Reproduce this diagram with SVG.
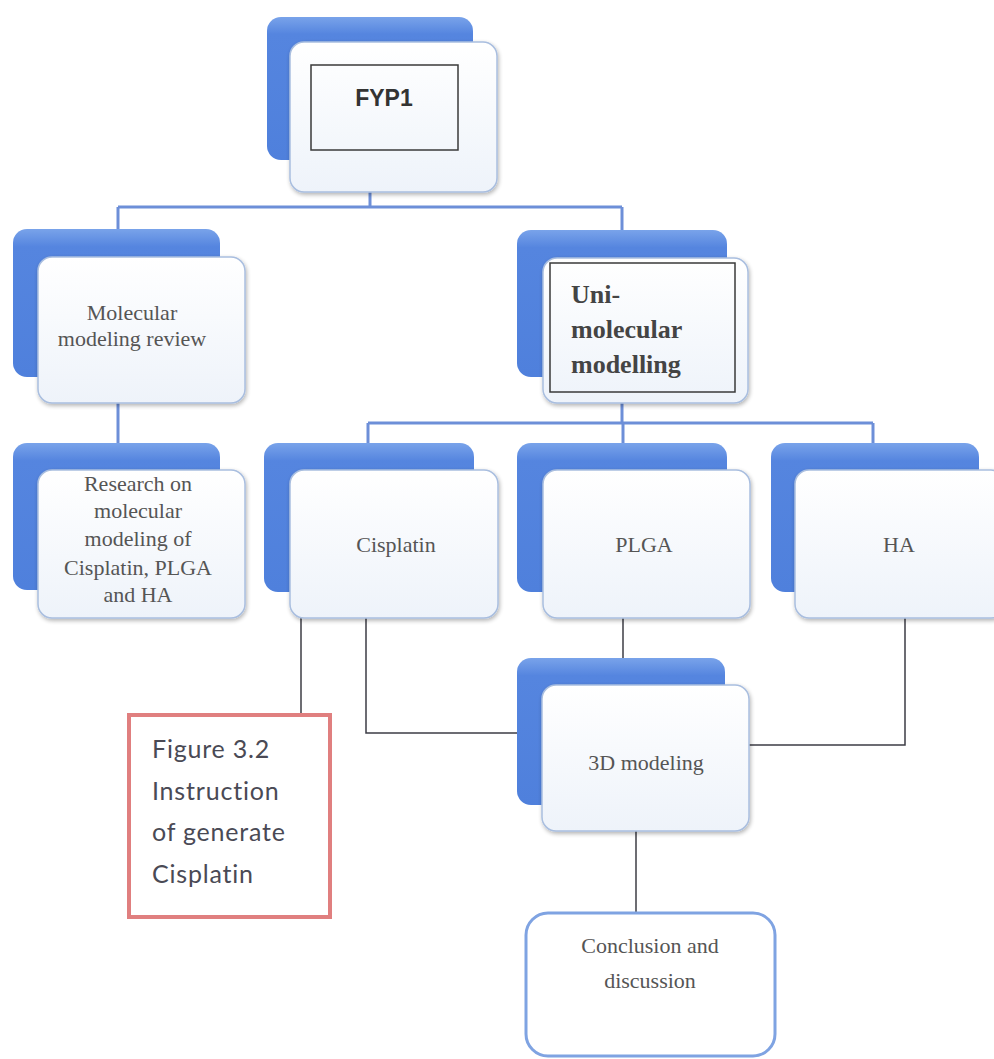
<svg xmlns="http://www.w3.org/2000/svg" width="994" height="1059" viewBox="0 0 994 1059">
<defs>
<linearGradient id="blue" x1="0" y1="0" x2="0" y2="1">
<stop offset="0" stop-color="#79a3ea"/>
<stop offset="0.12" stop-color="#5585df"/>
<stop offset="1" stop-color="#4f80dc"/>
</linearGradient>
<linearGradient id="card" x1="0" y1="0" x2="0" y2="1">
<stop offset="0" stop-color="#ffffff"/>
<stop offset="1" stop-color="#eef3fa"/>
</linearGradient>
<filter id="sh" x="-10%" y="-10%" width="130%" height="130%">
<feGaussianBlur in="SourceAlpha" stdDeviation="2"/>
<feOffset dx="1" dy="2"/>
<feComponentTransfer><feFuncA type="linear" slope="0.3"/></feComponentTransfer>
<feMerge><feMergeNode/><feMergeNode in="SourceGraphic"/></feMerge>
</filter>
</defs>
<style>
.back{fill:url(#blue);}
.front{fill:url(#card);stroke:#a9bedf;stroke-width:1.5;filter:url(#sh);}
.inner{fill:none;stroke:#3a3a3a;stroke-width:1.5;}
.t{font-family:"Liberation Serif","Times New Roman",serif;font-size:22px;fill:#555;text-anchor:middle;}
.tb{font-family:"Liberation Serif","Times New Roman",serif;font-size:26px;font-weight:bold;fill:#444;}
.fy{font-family:"Liberation Sans",Arial,sans-serif;font-size:23px;font-weight:bold;fill:#333;text-anchor:middle;}
.fig{font-family:Lato,"Open Sans",sans-serif;font-size:25px;letter-spacing:0.8px;fill:#4a4a55;}
.blueline{fill:none;stroke:#6d8fd8;stroke-width:3;}
.darkline{fill:none;stroke:#3d3d45;stroke-width:1.5;}
</style>
<rect width="994" height="1059" fill="#ffffff"/>

<g id="connectors">
<polyline class="blueline" points="370,192 370,207"/>
<polyline class="blueline" points="118,207 622,207"/>
<polyline class="blueline" points="118,207 118,229"/>
<polyline class="blueline" points="622,207 622,230"/>
<polyline class="blueline" points="118,403 118,443"/>
<polyline class="blueline" points="622,403 622,423"/>
<polyline class="blueline" points="368,423 873,423"/>
<polyline class="blueline" points="368,423 368,443"/>
<polyline class="blueline" points="623,423 623,443"/>
<polyline class="blueline" points="873,423 873,443"/>
<polyline class="darkline" points="301,618 301,714"/>
<polyline class="darkline" points="366,618 366,733 517,733"/>
<polyline class="darkline" points="623,618 623,658"/>
<polyline class="darkline" points="749,745 905,745 905,618"/>
<polyline class="darkline" points="636,831 636,913"/>
</g>

<g id="fyp1">
<rect class="back" x="267" y="17" width="206" height="143" rx="14"/>
<rect class="front" x="290" y="42" width="207" height="150" rx="14"/>
<rect class="inner" x="311" y="65" width="147" height="85"/>
<text class="fy" x="384" y="106">FYP1</text>
</g>

<g id="molecular-review">
<rect class="back" x="13" y="229" width="207" height="148" rx="14"/>
<rect class="front" x="38" y="257" width="207" height="146" rx="14"/>
<text class="t" x="132" y="320">Molecular</text>
<text class="t" x="132" y="346">modeling review</text>
</g>

<g id="uni-molecular">
<rect class="back" x="517" y="230" width="210" height="147" rx="14"/>
<rect class="front" x="543" y="258" width="205" height="145" rx="14"/>
<rect class="inner" x="550" y="263" width="185" height="129"/>
<text class="tb" x="571" y="303">Uni-</text>
<text class="tb" x="571" y="338">molecular</text>
<text class="tb" x="571" y="373">modelling</text>
</g>

<g id="research">
<rect class="back" x="13" y="443" width="207" height="147" rx="14"/>
<rect class="front" x="38" y="470" width="207" height="148" rx="14"/>
<text class="t" x="138" y="491">Research on</text>
<text class="t" x="138" y="518">molecular</text>
<text class="t" x="138" y="546">modeling of</text>
<text class="t" x="138" y="575">Cisplatin, PLGA</text>
<text class="t" x="138" y="602">and HA</text>
</g>

<g id="cisplatin">
<rect class="back" x="264" y="443" width="210" height="149" rx="14"/>
<rect class="front" x="290" y="470" width="208" height="148" rx="14"/>
<text class="t" x="396" y="552">Cisplatin</text>
</g>

<g id="plga">
<rect class="back" x="517" y="443" width="210" height="149" rx="14"/>
<rect class="front" x="543" y="470" width="207" height="148" rx="14"/>
<text class="t" x="644" y="552">PLGA</text>
</g>

<g id="ha">
<rect class="back" x="771" y="443" width="208" height="149" rx="14"/>
<rect class="front" x="795" y="470" width="210" height="148" rx="14"/>
<text class="t" x="899" y="552">HA</text>
</g>

<g id="modeling-3d">
<rect class="back" x="517" y="658" width="208" height="147" rx="14"/>
<rect class="front" x="542" y="685" width="207" height="146" rx="14"/>
<text class="t" x="646" y="770">3D modeling</text>
</g>

<g id="conclusion">
<rect x="526" y="913" width="249" height="143" rx="22" fill="#ffffff" stroke="#7fa3e2" stroke-width="3"/>
<text class="t" x="650" y="953">Conclusion and</text>
<text class="t" x="650" y="988">discussion</text>
</g>

<g id="figure-note">
<rect x="129" y="715" width="201" height="202" fill="#ffffff" stroke="#e07f7f" stroke-width="4"/>
<text class="fig" x="152" y="758">Figure 3.2</text>
<text class="fig" x="152" y="800">Instruction</text>
<text class="fig" x="152" y="841">of generate</text>
<text class="fig" x="152" y="883">Cisplatin</text>
</g>
</svg>
